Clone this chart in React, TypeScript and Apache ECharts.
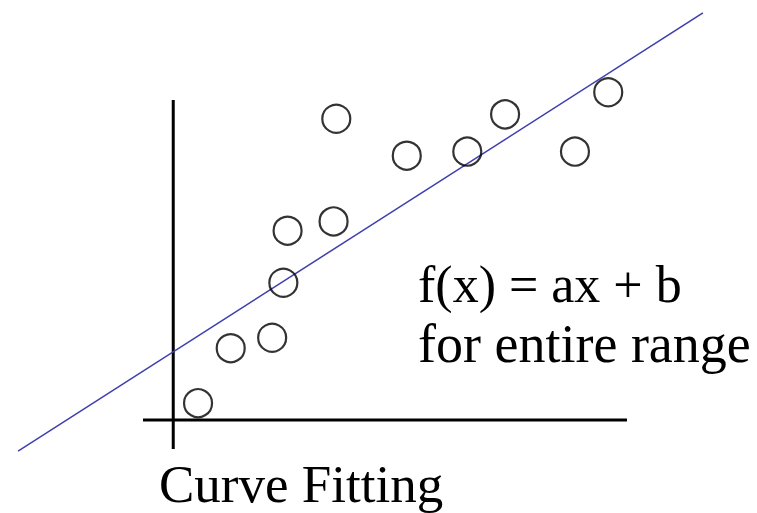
import React, { useEffect, useRef } from "react";
import * as echarts from "echarts";

// Observed samples (x, y) in plot units
const sampleX = [0.82, 1.9, 3.27, 3.64, 3.78, 5.3, 5.39, 7.72, 9.72, 10.97, 13.28, 14.38];
const sampleY = [0.58, 2.47, 2.83, 4.72, 6.51, 6.83, 10.36, 9.09, 9.23, 10.51, 9.23, 11.27];

// Straight-line fit drawn across the whole range
const fitLineX = [-5.13, 17.51];
const fitLineY = [-1.07, 14.0];

// Drawn axis extents (the axes cross at the origin)
const xAxisExtent = [-1, 15];
const yAxisExtent = [-1, 11];

// Visible coordinate window
const viewX = [-5.727, 19.298];
const viewY = [-3.198, 14.443];

const equationLines = ["f(x) = ax + b", "for entire range"];
const captionText = "Curve Fitting";

const serif = "'Liberation Serif', 'Times New Roman', 'DejaVu Serif', serif";

export default function App() {
  const ref = useRef<HTMLDivElement>(null);

  useEffect(() => {
    document.body.style.margin = "0";
    if (!ref.current) return;
    const chart = echarts.init(ref.current, null, { renderer: "svg" });

    const points = sampleX.map((x, i) => [x, sampleY[i]]);
    const fitPoints = fitLineX.map((x, i) => [x, fitLineY[i]]);
    const hAxis = xAxisExtent.map((x) => [x, 0]);
    const vAxis = yAxisExtent.map((y) => [0, y]);

    const hidden = {
      type: "value" as const,
      axisLine: { show: false },
      axisTick: { show: false },
      axisLabel: { show: false },
      splitLine: { show: false },
    };

    chart.setOption({
      animation: false,
      backgroundColor: "#ffffff",
      grid: { left: 0, right: 0, top: 0, bottom: 0 },
      xAxis: { ...hidden, min: viewX[0], max: viewX[1] },
      yAxis: { ...hidden, min: viewY[0], max: viewY[1] },
      series: [
        {
          type: "line",
          data: hAxis,
          symbol: "none",
          lineStyle: { color: "#000", width: 3 },
          z: 2,
        },
        {
          type: "line",
          data: vAxis,
          symbol: "none",
          lineStyle: { color: "#000", width: 3 },
          z: 2,
        },
        {
          type: "line",
          data: fitPoints,
          symbol: "none",
          lineStyle: { color: "#3f3fae", width: 1.5 },
          z: 3,
        },
        {
          type: "scatter",
          data: points,
          symbol: "circle",
          symbolSize: 28,
          itemStyle: { color: "rgba(255,255,255,0)", borderColor: "#000", borderWidth: 2.2 },
          z: 4,
        },
      ],
      graphic: [
        {
          type: "text",
          left: 418,
          top: 258,
          style: { text: equationLines[0], font: `52px ${serif}`, fill: "#000" },
        },
        {
          type: "text",
          left: 418,
          top: 317,
          style: { text: equationLines[1], font: `54px ${serif}`, fill: "#000" },
        },
        {
          type: "text",
          left: 159,
          top: 457,
          style: { text: captionText, font: `53px ${serif}`, fill: "#000" },
        },
      ],
    });

    return () => chart.dispose();
  }, []);

  return <div ref={ref} style={{ width: 757, height: 513 }} />;
}
